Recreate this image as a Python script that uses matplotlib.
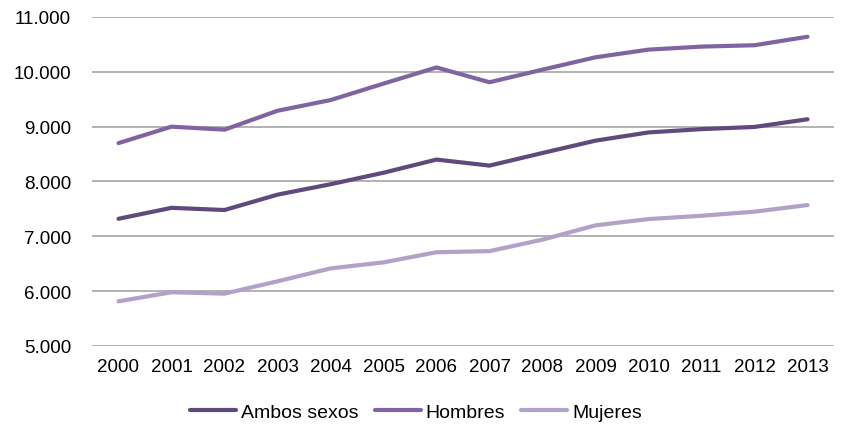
import matplotlib
matplotlib.use("Agg")
import matplotlib.pyplot as plt
from matplotlib.ticker import FuncFormatter

years = [str(y) for y in range(2000, 2014)]
ambos_sexos = [7320, 7520, 7480, 7760, 7950, 8160, 8400, 8290, 8520, 8745, 8895, 8955, 8995, 9135]
hombres = [8700, 9000, 8945, 9290, 9485, 9785, 10080, 9810, 10040, 10265, 10405, 10460, 10485, 10640]
mujeres = [5815, 5980, 5955, 6180, 6415, 6525, 6710, 6730, 6940, 7200, 7315, 7375, 7450, 7570]

series = [
    ("Ambos sexos", ambos_sexos, "#604A7B"),
    ("Hombres", hombres, "#8064A2"),
    ("Mujeres", mujeres, "#B3A2C7"),
]

plt.rcParams["font.family"] = ["Liberation Sans", "DejaVu Sans"]

fig = plt.figure(figsize=(8.41, 4.27), dpi=100)
ax = fig.add_axes([92 / 841, 1 - 347 / 427, (834 - 92) / 841, (347 - 18) / 427])

x = list(range(len(years)))
for name, vals, col in series:
    ax.plot(x, vals, color=col, lw=3.0, label=name, solid_capstyle="round",
            solid_joinstyle="round", zorder=3)

ax.set_xlim(-0.5, len(years) - 0.5)
ax.set_ylim(5000, 11000)
ax.set_yticks(range(5000, 11001, 1000))
ax.yaxis.set_major_formatter(FuncFormatter(lambda v, p: f"{int(v):,}".replace(",", ".")))
ax.set_xticks(x)
ax.set_xticklabels(years)

ax.grid(axis="y", color="#A6A6A6", lw=1.2, zorder=0)
ax.set_axisbelow(True)
for s in ax.spines.values():
    s.set_visible(False)
ax.tick_params(axis="both", length=0, labelsize=13.5, colors="black")
ax.tick_params(axis="y", pad=15)
ax.tick_params(axis="x", pad=9)

leg = fig.legend(loc="center", bbox_to_anchor=(416 / 841, 1 - 413 / 427), ncol=3,
                 frameon=False, fontsize=14, handlelength=2.35, handletextpad=0.25,
                 columnspacing=0.85, borderaxespad=0)
for h in leg.get_lines():
    h.set_linewidth(3.0)

fig.savefig("out.png", dpi=100)
